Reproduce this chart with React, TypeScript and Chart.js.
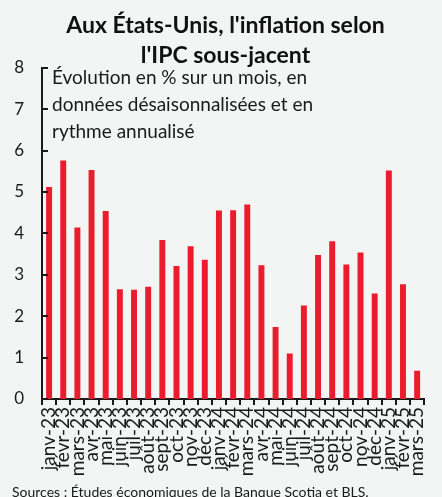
import React, { useEffect, useRef } from "react";
import { Chart, registerables } from "chart.js";

Chart.register(...registerables);

const categories = [
  "janv-23", "févr-23", "mars-23", "avr-23", "mai-23", "juin-23", "juil-23", "août-23", "sept-23", "oct-23", "nov-23", "déc-23",
  "janv-24", "févr-24", "mars-24", "avr-24", "mai-24", "juin-24", "juil-24", "août-24", "sept-24", "oct-24", "nov-24", "déc-24",
  "janv-25", "févr-25", "mars-25",
];
const values = [
  5.12, 5.76, 4.14, 5.53, 4.54, 2.65, 2.64, 2.71, 3.84, 3.21, 3.69, 3.36,
  4.55, 4.56, 4.7, 3.23, 1.74, 1.1, 2.26, 3.48, 3.81, 3.25, 3.54, 2.55,
  5.52, 2.77, 0.68,
];
const yTicks = [0, 1, 2, 3, 4, 5, 6, 7, 8];
const titleLines = ["Aux États-Unis, l'inflation selon", "l'IPC sous-jacent"];
const noteLines = ["Évolution en % sur un mois, en", "données désaisonnalisées et en", "rythme annualisé"];
const sourceText = "Sources : Études économiques de la Banque Scotia et BLS.";

const FONT = "Lato, 'Open Sans', sans-serif";
const INK = "#1a1a1a";

const innerTicksPlugin = {
  id: "innerTicks",
  afterDraw(chart: any) {
    const { ctx, chartArea } = chart;
    const y = chart.scales.y;
    ctx.save();
    ctx.strokeStyle = INK;
    ctx.lineWidth = 2;
    yTicks.forEach((v) => {
      const py = Math.round(y.getPixelForValue(v));
      ctx.beginPath();
      ctx.moveTo(chartArea.left, py);
      ctx.lineTo(chartArea.left + 6, py);
      ctx.stroke();
    });
    ctx.fillStyle = INK;
    ctx.font = `19px ${FONT}`;
    ctx.textBaseline = "middle";
    ctx.textAlign = "left";
    noteLines.forEach((line, i) => {
      ctx.fillText(line, chartArea.left + 10, y.getPixelForValue(8) + 10 + i * 27);
    });
    ctx.restore();
  },
};

export default function App() {
  const ref = useRef<HTMLCanvasElement | null>(null);
  useEffect(() => {
    document.body.style.margin = "0";
    const chart = new Chart(ref.current as HTMLCanvasElement, {
      type: "bar",
      data: {
        labels: categories,
        datasets: [
          {
            data: values,
            backgroundColor: "#ec1c2f",
            borderWidth: 0,
            barPercentage: 0.42,
            categoryPercentage: 1,
          },
        ],
      },
      options: {
        animation: false,
        responsive: false,
        maintainAspectRatio: false,
        layout: { padding: { left: 12, right: 3, top: 0, bottom: -4 } },
        plugins: {
          legend: { display: false },
          tooltip: { enabled: false },
          title: {
            display: true,
            text: titleLines,
            color: "#111",
            font: { family: FONT, size: 23, weight: "bold", lineHeight: 1.3 },
            padding: { top: 11, bottom: -3 },
          },
          subtitle: {
            display: true,
            text: sourceText,
            position: "bottom",
            align: "start",
            color: INK,
            font: { family: FONT, size: 14, lineHeight: 1.2 },
            padding: { top: 6, bottom: 0 },
          },
        },
        scales: {
          x: {
            offset: true,
            grid: { display: true, drawOnChartArea: false, drawTicks: true, tickLength: 6, color: INK, lineWidth: 2, offset: true },
            border: { display: true, color: INK, width: 2 },
            ticks: {
              color: INK,
              font: { family: FONT, size: 19 },
              minRotation: 90,
              maxRotation: 90,
              autoSkip: false,
              padding: 2,
            },
          },
          y: {
            min: 0,
            max: 8,
            afterFit(scale: any) {
              scale.width = 30;
            },
            grid: { display: false, drawTicks: false },
            border: { display: true, color: INK, width: 2 },
            ticks: {
              stepSize: 1,
              color: INK,
              font: { family: FONT, size: 17 },
              padding: 18,
            },
          },
        },
      },
      plugins: [innerTicksPlugin],
    });
    return () => chart.destroy();
  }, []);
  return (
    <div style={{ position: "absolute", left: 0, top: 0, width: 442, height: 497, background: "#f3f4f4", overflow: "hidden" }}>
      <canvas ref={ref} width={442} height={497} style={{ display: "block", width: 442, height: 497 }} />
    </div>
  );
}
